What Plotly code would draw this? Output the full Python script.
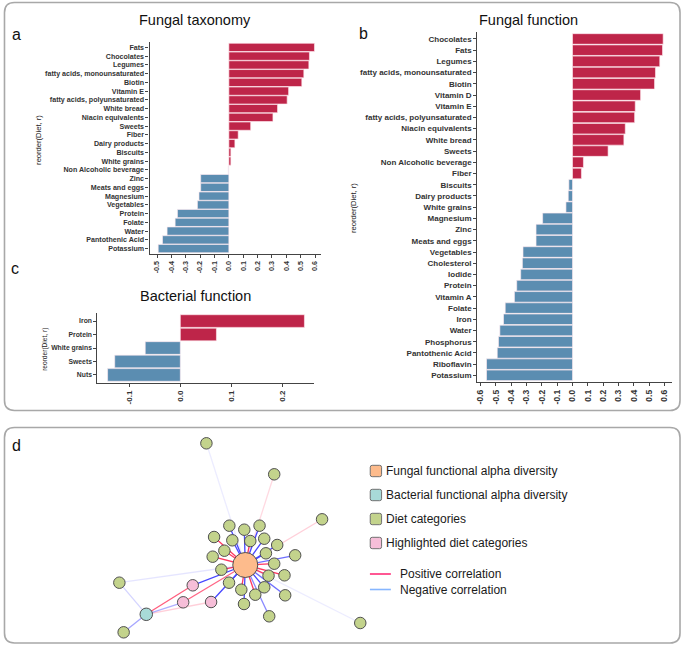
import plotly.graph_objects as go

W, H = 685, 647

# ---------------- data ----------------
# (a) Fungal taxonomy: diet correlations
tax_diet = ["Fats", "Chocolates", "Legumes", "fatty acids, monounsaturated", "Biotin", "Vitamin E",
            "fatty acids, polyunsaturated", "White bread", "Niacin equivalents", "Sweets", "Fiber",
            "Dairy products", "Biscuits", "White grains", "Non Alcoholic beverage", "Zinc",
            "Meats and eggs", "Magnesium", "Vegetables", "Protein", "Folate", "Water",
            "Pantothenic Acid", "Potassium"]
tax_r = [0.596, 0.561, 0.557, 0.522, 0.508, 0.416, 0.406, 0.339, 0.307, 0.152, 0.065, 0.042,
         0.014, 0.014, -0.005, -0.196, -0.196, -0.208, -0.219, -0.358, -0.374, -0.430, -0.462, -0.492]
tax_ticks = [-0.5, -0.4, -0.3, -0.2, -0.1, 0.0, 0.1, 0.2, 0.3, 0.4, 0.5, 0.6]

# (b) Fungal function: diet correlations
func_diet = ["Chocolates", "Fats", "Legumes", "fatty acids, monounsaturated", "Biotin", "Vitamin D",
             "Vitamin E", "fatty acids, polyunsaturated", "Niacin equivalents", "White bread", "Sweets",
             "Non Alcoholic beverage", "Fiber", "Biscuits", "Dairy products", "White grains",
             "Magnesium", "Zinc", "Meats and eggs", "Vegetables", "Cholesterol", "Iodide", "Protein",
             "Vitamin A", "Folate", "Iron", "Water", "Phosphorus", "Pantothenic Acid", "Riboflavin",
             "Potassium"]
func_r = [0.591, 0.587, 0.569, 0.541, 0.535, 0.444, 0.409, 0.405, 0.344, 0.335, 0.232, 0.071, 0.058,
          -0.024, -0.028, -0.043, -0.195, -0.238, -0.238, -0.323, -0.327, -0.338, -0.364, -0.379,
          -0.439, -0.450, -0.474, -0.483, -0.491, -0.561, -0.561]
func_ticks = [-0.6, -0.5, -0.4, -0.3, -0.2, -0.1, 0.0, 0.1, 0.2, 0.3, 0.4, 0.5, 0.6]

# (c) Bacterial function: diet correlations
bact_diet = ["Iron", "Protein", "White grains", "Sweets", "Nuts"]
bact_r = [0.244, 0.071, -0.069, -0.129, -0.143]
bact_ticks = [-0.1, 0.0, 0.1, 0.2]

# (d) network: node layout coordinates (graph layout) and node kinds
FUNG = "Fungal functional alpha diversity"
BACT = "Bacterial functional alpha diversity"
node_name = [FUNG, BACT, "Iron", "Sweets", "Protein", "White grains", "Nuts", "Biscuits", "Fiber",
             "Non Alcoholic beverage", "Dairy products",
             "Chocolates", "Fats", "Legumes", "fatty acids, monounsaturated", "Biotin", "Vitamin D",
             "Vitamin E", "fatty acids, polyunsaturated", "Niacin equivalents", "White bread",
             "Magnesium", "Zinc", "Meats and eggs", "Vegetables", "Cholesterol", "Iodide", "Vitamin A",
             "Folate", "Water", "Phosphorus", "Pantothenic Acid", "Riboflavin", "Potassium"]
node_x = [244, 144.7, 191.3, 181.7, 209.7, 117.7, 122, 205, 273, 321, 359.3,
          249, 223, 220, 212.7, 211.3, 240, 254, 267.3, 273, 283.3,
          268, 294, 284, 276, 228, 258.3, 243, 263, 231, 264.7, 227.7, 263, 242.7]
node_y = [565, 614.3, 585.3, 602.3, 602, 582.7, 632.3, 443.3, 474.3, 519.3, 623,
          541, 550.7, 569.7, 537, 556.7, 589.7, 594.7, 575.7, 563.7, 575.3,
          616.3, 555.3, 595.3, 545, 525.7, 525.7, 529.7, 538.7, 540.3, 553.3, 582.7, 587.3, 604]
node_kind = ["fungal", "bacterial", "highlighted", "highlighted", "highlighted"] + ["diet"] * 29

legend_labels = ["Fungal functional alpha diversity", "Bacterial functional alpha diversity",
                 "Diet categories", "Highlighted diet categories"]
line_labels = ["Positive correlation", "Negative correlation"]

# ---------------- styles ----------------
RED = "#BE2549"
BLUE = "#5B8DB1"
FONT = "Liberation Sans, Arial, sans-serif"
kind_color = {"fungal": "#FDBB8C", "bacterial": "#A8DAD8", "diet": "#C3D38C", "highlighted": "#F6BED8"}
kind_size = {"fungal": 25, "bacterial": 12.5, "diet": 11.5, "highlighted": 11.5}


def px(x):
    return x / W


def py(y):
    return 1 - y / H


fig = go.Figure()


def add_bars(diets, vals, ax):
    cols = [RED if v > 0 else ("#C9DCEB" if abs(v) < 0.01 else BLUE) for v in vals]
    fig.add_trace(go.Bar(
        y=diets, x=vals, orientation="h",
        marker=dict(color=cols, line=dict(color="rgba(255,235,240,0.9)", width=0.7)),
        xaxis="x" + ax, yaxis="y" + ax, showlegend=False, hoverinfo="x+y"))


add_bars(tax_diet, tax_r, "")
add_bars(func_diet, func_r, "2")
add_bars(bact_diet, bact_r, "3")

# ---------------- network ----------------
pos = {n: (x, y) for n, x, y in zip(node_name, node_x, node_y)}
edges = [(FUNG, d, r) for d, r in zip(func_diet, func_r)] + [(BACT, d, r) for d, r in zip(bact_diet, bact_r)]
for src, dst, r in edges:
    a = min(1.0, max(0.1, abs(r) / 0.3))
    col = f"rgba(255,55,95,{a:.2f})" if r > 0 else f"rgba(70,70,255,{a:.2f})"
    (x0, y0), (x1, y1) = pos[src], pos[dst]
    fig.add_trace(go.Scatter(x=[x0, x1], y=[y0, y1], mode="lines", line=dict(color=col, width=1.3),
                             xaxis="x4", yaxis="y4", showlegend=False, hoverinfo="skip"))

for kind in ["diet", "highlighted", "bacterial", "fungal"]:
    idx = [i for i, k in enumerate(node_kind) if k == kind]
    fig.add_trace(go.Scatter(
        x=[node_x[i] for i in idx], y=[node_y[i] for i in idx], text=[node_name[i] for i in idx],
        mode="markers",
        marker=dict(size=kind_size[kind], color=kind_color[kind], line=dict(color="#505050", width=1)),
        xaxis="x4", yaxis="y4", showlegend=False, hoverinfo="text"))

# ---------------- axes ----------------
tick_col = "#333333"


def xax(dom, rng, ticks, fsize):
    return dict(domain=dom, range=rng, tickmode="array", tickvals=ticks, ticktext=[f"{t:.1f}" for t in ticks],
                tickangle=-90, showgrid=False, zeroline=False, showline=True, linecolor="#444",
                linewidth=1.2, ticks="outside", ticklen=3, tickcolor="#444", tickwidth=1,
                tickfont=dict(family=FONT, size=fsize, color=tick_col, weight="bold"), fixedrange=True)


def yax(dom, cats, fsize, anchor):
    n = len(cats)
    return dict(domain=dom, type="category", categoryorder="array", categoryarray=cats,
                tickmode="array", tickvals=cats, ticktext=cats,
                range=[n - 1 + 0.62, -0.62], showgrid=False, zeroline=False, showline=True,
                linecolor="#444", linewidth=1.2, ticks="outside", ticklen=3, tickcolor="#444",
                tickwidth=1, tickfont=dict(family=FONT, size=fsize, color=tick_col, weight="bold"),
                anchor=anchor, fixedrange=True)


layout = dict(
    width=W, height=H, margin=dict(l=0, r=0, t=0, b=0),
    paper_bgcolor="white", plot_bgcolor="rgba(0,0,0,0)",
    bargap=0.06, showlegend=False, font=dict(family=FONT),
    xaxis=dict(xax([px(148), px(320)], [-0.552, 0.642], tax_ticks, 7.2), anchor="y"),
    yaxis=yax([py(254), py(42)], tax_diet, 7.1, "x"),
    xaxis2=dict(xax([px(476.7), px(672)], [-0.621, 0.649], func_ticks, 8.5), anchor="y2"),
    yaxis2=yax([py(382.3), py(32)], func_diet, 8.0, "x2"),
    xaxis3=dict(xax([px(95.7), px(313)], [-0.163, 0.263], bact_ticks, 8), anchor="y3"),
    yaxis3=yax([py(383.3), py(312.7)], bact_diet, 6.8, "x3"),
    xaxis4=dict(domain=[px(2.5), px(680)], range=[2.5, 680], visible=False, fixedrange=True, anchor="y4"),
    yaxis4=dict(domain=[py(643), py(427.5)], range=[643, 427.5], visible=False, fixedrange=True, anchor="x4"),
)
fig.update_layout(**layout)


# ---------------- panel boxes ----------------
def rrect(x0, y0, x1, y1, r):
    X0, X1 = px(x0), px(x1)
    Y0, Y1 = py(y0), py(y1)
    rx, ry = r / W, r / H
    return (f"M{X0 + rx},{Y0} L{X1 - rx},{Y0} Q{X1},{Y0} {X1},{Y0 - ry} "
            f"L{X1},{Y1 + ry} Q{X1},{Y1} {X1 - rx},{Y1} L{X0 + rx},{Y1} Q{X0},{Y1} {X0},{Y1 + ry} "
            f"L{X0},{Y0 - ry} Q{X0},{Y0} {X0 + rx},{Y0} Z")


shapes = [
    dict(type="path", path=rrect(2.5, 2.5, 680, 410.5, 10), xref="paper", yref="paper",
         line=dict(color="#A8A8A8", width=1.6)),
    dict(type="path", path=rrect(2.5, 427.5, 680, 643, 10), xref="paper", yref="paper",
         line=dict(color="#A8A8A8", width=1.6)),
]
leg_kinds = ["fungal", "bacterial", "diet", "highlighted"]
leg_y = [471, 495, 519, 543]
for k, yy in zip(leg_kinds, leg_y):
    shapes.append(dict(type="path", path=rrect(369.3, yy - 5.7, 380.7, yy + 5.7, 2), xref="paper", yref="paper",
                       fillcolor=kind_color[k], line=dict(color="#707070", width=1)))
for col, yy in zip(["#FF2D78", "#86B6FF"], [574, 589.5]):
    shapes.append(dict(type="line", x0=px(369), x1=px(390), y0=py(yy), y1=py(yy), xref="paper", yref="paper",
                       line=dict(color=col, width=1.6)))
fig.update_layout(shapes=shapes)

# ---------------- text ----------------
ann = []


def text(x, y, s, size, xanchor="center", angle=0, color="#111", weight="normal"):
    ann.append(dict(x=px(x), y=py(y), xref="paper", yref="paper", text=s, showarrow=False,
                    xanchor=xanchor, yanchor="middle", textangle=angle,
                    font=dict(family=FONT, size=size, color=color, weight=weight)))


text(194, 20, "Fungal taxonomy", 14.5)
text(528, 20, "Fungal function", 14.5)
text(194, 296, "Bacterial function", 14.5)
text(8, 35, "a", 16, xanchor="left")
text(356, 33, "b", 16, xanchor="left")
text(7, 269, "c", 16, xanchor="left")
text(8, 445, "d", 16, xanchor="left")
text(37, 140, "reorder(Diet, r)", 7.6, angle=-90, color="#222")
text(352, 208, "reorder(Diet, r)", 7.6, angle=-90, color="#222")
text(43, 349, "reorder(Diet, r)", 6.6, angle=-90, color="#222")
for lab, yy in zip(legend_labels, leg_y):
    text(383.5, yy, lab, 12, xanchor="left", color="#1a1a1a")
for lab, yy in zip(line_labels, [574, 589.5]):
    text(397.5, yy, lab, 12, xanchor="left", color="#1a1a1a")
fig.update_layout(annotations=ann)

fig.write_html("out.html", config={"displayModeBar": False},
               post_script="document.body.style.margin='0';document.body.style.overflow='hidden';")
